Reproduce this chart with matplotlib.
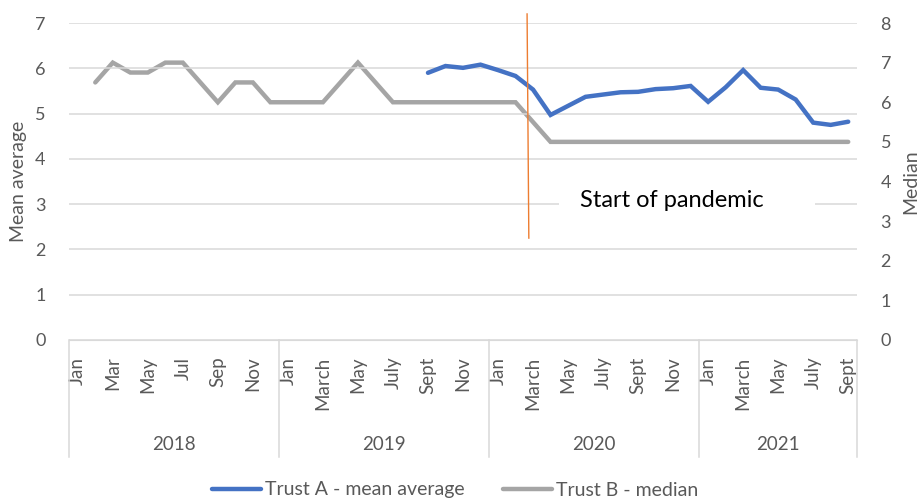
import numpy as np
import matplotlib
matplotlib.use("Agg")
import matplotlib.pyplot as plt
from matplotlib.patches import Rectangle
from matplotlib.lines import Line2D

plt.rcParams['font.family'] = ['Lato', 'DejaVu Sans']

years = ["2018", "2019", "2020", "2021"]
months_per_year = [12, 12, 12, 9]
month_labels = [
    ["Jan", "", "Mar", "", "May", "", "Jul", "", "Sep", "", "Nov", ""],
    ["Jan", "", "March", "", "May", "", "July", "", "Sept", "", "Nov", ""],
    ["Jan", "", "March", "", "May", "", "July", "", "Sept", "", "Nov", ""],
    ["Jan", "", "March", "", "May", "", "July", "", "Sept"],
]

# Trust A - mean average (left axis), from Sept 2019
trust_a = [np.nan] * 20 + [5.90, 6.05, 6.01, 6.08, 5.96, 5.83, 5.53, 4.97, 5.17,
                           5.37, 5.42, 5.47, 5.48, 5.54, 5.56, 5.61, 5.26, 5.58,
                           5.96, 5.57, 5.53, 5.31, 4.80, 4.75, 4.82]
# Trust B - median (right axis), from Feb 2018
trust_b = [np.nan, 6.5, 7, 6.75, 6.75, 7, 7, 6.5, 6, 6.5, 6.5, 6,
           6, 6, 6, 6.5, 7, 6.5, 6, 6, 6, 6, 6, 6,
           6, 6, 5.5] + [5] * 18

BLUE = "#4472C4"
GREY = "#A5A5A5"
ORANGE = "#ED7D31"
TXT = "#595959"
GRID = "#D9D9D9"

n = sum(months_per_year)
x = np.arange(n)

fig = plt.figure(figsize=(9.19, 5.0), dpi=100)
ax = fig.add_axes([0.0751, 0.32, 0.8574, 0.634])
ax2 = ax.twinx()
ax.set_zorder(2)
ax2.set_zorder(1)
ax.patch.set_visible(False)

ax2.plot(x, trust_b, color=GREY, lw=3.2, solid_capstyle="round", solid_joinstyle="miter")
ax.plot(x, trust_a, color=BLUE, lw=3.2, solid_capstyle="round", solid_joinstyle="miter")

ax.set_xlim(-0.5, n - 0.5)
ax.set_ylim(0, 7)
ax2.set_ylim(0, 8)
ax.set_yticks(range(0, 8))
ax2.set_yticks(range(0, 9))
ax.yaxis.grid(True, color=GRID, lw=1.1)
ax.set_axisbelow(True)

for a in (ax, ax2):
    for s in a.spines.values():
        s.set_visible(False)
    a.tick_params(axis="y", length=0, labelsize=13, labelcolor=TXT)
ax.tick_params(axis="y", pad=17)
ax2.tick_params(axis="y", pad=17)
ax.spines["bottom"].set_visible(True)
ax.spines["bottom"].set_color(GRID)

ax.set_ylabel("Mean average", fontsize=14, color=TXT, labelpad=6)
ax2.set_ylabel("Median", fontsize=14, color=TXT, labelpad=8)

# month ticks
labels = [m for yl in month_labels for m in yl]
ax.set_xticks(x)
ax.set_xticklabels(labels, rotation=90, fontsize=13.5, color=TXT, va="top")
ax.tick_params(axis="x", length=0, pad=12)

# year groups and separators
trans = ax.get_xaxis_transform()
start = 0
bounds = [-0.5]
for yr, cnt in zip(years, months_per_year):
    ax.text(start + (cnt - 1) / 2, -0.33, yr, transform=trans, ha="center", va="center",
            fontsize=13.5, color=TXT)
    start += cnt
    bounds.append(start - 0.5)
for b in bounds:
    ax.plot([b, b], [0, -0.37], transform=trans, color=GRID, lw=1.1, clip_on=False)

# pandemic marker and label
ax.plot([25.66, 25.76], [7.2, 2.25], color=ORANGE, lw=1.0, clip_on=False, zorder=4)
ax.add_patch(Rectangle((27.5, 2.7), 14.6, 0.75, facecolor="white", edgecolor="none", zorder=3))
ax.text(33.95, 3.07, "Start of pandemic", ha="center", va="center", fontsize=17,
        color="black", zorder=5)

handles = [Line2D([], [], color=BLUE, lw=3.2, solid_capstyle="round"),
           Line2D([], [], color=GREY, lw=3.2, solid_capstyle="round")]
fig.legend(handles, ["Trust A - mean average", "Trust B - median"], loc="center",
           bbox_to_anchor=(0.495, 0.02), ncol=2, frameon=False, fontsize=14,
           labelcolor=TXT, handlelength=2.5, handletextpad=0.2, columnspacing=2.0)

fig.savefig("out.png", dpi=100)
